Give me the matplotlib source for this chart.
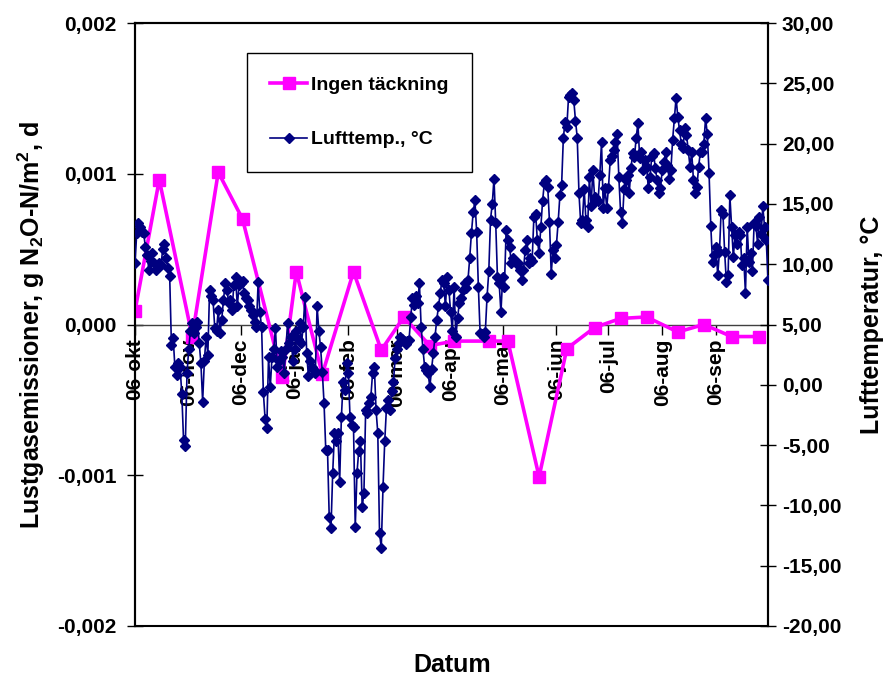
import matplotlib
matplotlib.use('Agg')
import matplotlib.pyplot as plt
import pandas as pd

plt.rcParams['font.family'] = ['Liberation Sans', 'DejaVu Sans']
plt.rcParams['font.weight'] = 'bold'
plt.rcParams['mathtext.fontset'] = 'custom'
plt.rcParams['mathtext.bf'] = 'Liberation Sans:bold'
plt.rcParams['mathtext.rm'] = 'Liberation Sans:bold'
plt.rcParams['mathtext.default'] = 'bf'

# Lustgasemissioner, ingen täckning (vänster axel)
lustgas_datum = ['2006-10-06', '2006-10-20', '2006-11-08', '2006-11-23', '2006-12-07',
                 '2006-12-30', '2007-01-07', '2007-01-22', '2007-02-09', '2007-02-25',
                 '2007-03-10', '2007-03-25', '2007-04-08', '2007-04-28', '2007-05-09',
                 '2007-05-27', '2007-06-12', '2007-06-28', '2007-07-13', '2007-07-28',
                 '2007-08-15', '2007-08-30', '2007-09-15', '2007-10-01']
lustgas = [0.00009, 0.00096, -0.00008, 0.00101, 0.0007,
           -0.00035, 0.00035, -0.00033, 0.00035, -0.00017,
           0.00005, -0.00014, -0.00011, -0.00011, -0.00011,
           -0.00101, -0.00016, -0.00002, 0.00004, 0.00005,
           -0.00005, 0.0, -0.00008, -0.00008]

# Lufttemperatur per dygn, från 2006-10-06 (höger axel)
temp_start = '2006-10-06'
temp_okt = [10.1, 12.6, 13.4, 13.1, 12.7, 12.6, 11.4, 10.8, 9.5, 10.3, 10.9, 10.1, 9.5, 9.8, 10.1, 9.9,
            11.3, 11.7, 10.5, 9.7, 9.0, 3.3, 3.9, 1.5, 0.8, 1.8, 1.5, -0.8, -4.6, -5.1, 1.0]
temp_nov = [3.0, 4.5, 5.1, 4.3, 4.8, 5.2, 3.5, 1.8, -1.4, 2.0, 4.0, 2.5, 7.9, 7.4, 7.0, 4.7,
            4.5, 6.2, 4.3, 5.4, 7.0, 8.4, 7.9, 6.8, 7.0, 6.2, 8.3, 8.9, 6.5, 8.3]
temp_dec = [8.4, 8.6, 7.6, 7.2, 7.0, 6.5, 6.2, 5.8, 5.2, 4.8, 8.5, 6.0, 4.8, -0.6, -2.8, -3.6,
            2.3, -0.2, 2.3, 3.0, 4.7, 1.5, 2.0, 2.8, 2.3, 1.0, 3.0, 5.1, 3.5, 4.0, 2.0]
temp_jan = [3.0, 4.5, 3.8, 5.1, 3.5, 4.8, 7.3, 2.6, 0.7, 2.0, 1.5, 1.2, 1.0, 6.5, 4.5, 3.1,
            1.1, -1.5, -5.4, -5.4, -11.0, -11.9, -7.3, -4.0, -4.7, -4.0, -8.1, -2.7, 0.2, -0.4, 1.8]
temp_feb = [1.0, -2.7, -3.3, -3.5, -11.8, -7.3, -5.5, -4.7, -10.1, -9.0, -2.1, -2.3, -1.5, -1.0,
            1.0, 1.5, -2.1, -4.0, -12.3, -13.5, -8.5, -4.7, -1.9, -1.3, -2.1, -0.5, 0.2, 2.2]
temp_mar = [3.0, 3.5, 4.0, 3.8, 3.6, 3.4, 3.6, 3.7, 5.6, 7.2, 6.6, 7.4, 6.8, 8.4, 4.8, 3.0,
            1.5, 1.2, 1.0, -0.2, 1.3, 2.6, 4.0, 5.4, 6.5, 7.6, 8.7, 8.4, 6.5, 8.9, 7.9]
temp_apr = [6.0, 4.5, 8.1, 4.0, 5.5, 6.8, 7.2, 7.9, 8.4, 8.0, 8.7, 10.5, 12.6, 14.3, 15.3,
            12.7, 8.1, 4.3, 4.2, 4.0, 4.4, 7.3, 9.4, 13.7, 15.0, 17.1, 13.4, 8.9, 8.4, 6.0]
temp_maj = [8.9, 8.1, 12.8, 12.0, 11.4, 10.1, 10.5, 10.3, 10.0, 10.1, 9.5, 8.7, 9.5, 11.2, 12.0,
            10.1, 10.5, 10.3, 13.9, 14.2, 12.0, 10.9, 13.1, 15.2, 16.7, 17.0, 16.4, 13.5, 9.2, 11.2, 10.5]
temp_jun = [11.6, 13.5, 15.7, 16.6, 20.5, 21.8, 21.4, 23.9, 24.0, 24.2, 23.6, 21.9, 20.5, 15.9,
            13.4, 13.7, 16.2, 13.7, 13.1, 17.2, 14.8, 17.8, 15.6, 15.3, 15.2, 17.4, 20.1, 14.7, 16.3, 14.7]
temp_jul = [16.3, 18.6, 19.0, 19.5, 20.1, 20.8, 17.2, 14.3, 13.4, 16.2, 17.0, 17.4, 15.9, 18.0,
            19.2, 18.9, 20.5, 21.7, 18.8, 19.3, 17.8, 18.6, 18.1, 16.3, 17.2, 19.0, 19.2, 18.0, 17.0, 15.9, 16.3]
temp_aug = [17.8, 18.5, 19.3, 18.2, 17.1, 17.8, 20.3, 22.1, 23.8, 22.2, 21.1, 20.0, 19.6, 21.3,
            20.7, 19.5, 18.1, 19.3, 17.0, 15.9, 16.4, 18.1, 19.3, 19.3, 20.0, 22.1, 20.8, 17.6, 13.2, 10.2, 10.8]
temp_sep = [11.4, 9.1, 11.0, 14.5, 14.2, 11.0, 8.5, 9.1, 15.7, 13.1, 10.6, 12.4, 11.7, 12.7, 12.4,
            9.9, 10.5, 7.6, 13.1, 10.2, 10.9, 9.4, 13.4, 13.2, 11.7, 13.9, 12.5, 14.8, 13.1, 12.0, 8.7]

temp = (temp_okt + temp_nov + temp_dec + temp_jan + temp_feb + temp_mar
        + temp_apr + temp_maj + temp_jun + temp_jul + temp_aug + temp_sep)
temp_datum = pd.date_range(temp_start, periods=len(temp), freq='D')

tick_datum = ['2006-10-06', '2006-11-06', '2006-12-06', '2007-01-06', '2007-02-06', '2007-03-06',
              '2007-04-06', '2007-05-06', '2007-06-06', '2007-07-06', '2007-08-06', '2007-09-06']
tick_text = ['06-okt', '06-nov', '06-dec', '06-jan', '06-feb', '06-mar',
             '06-apr', '06-maj', '06-jun', '06-jul', '06-aug', '06-sep']
vanster_ticks = [-0.002, -0.001, 0.0, 0.001, 0.002]
hoger_ticks = [-20, -15, -10, -5, 0, 5, 10, 15, 20, 25, 30]

fig = plt.figure(figsize=(8.87, 6.78), dpi=100)
ax = fig.add_axes([135 / 887, 52 / 678, 633 / 887, 603 / 678])
ax2 = ax.twinx()

# x-axeln ligger vid noll, som i Excel
ax.spines['bottom'].set_position(('data', 0))
ax.spines['bottom'].set_color('#404040')
ax.spines['bottom'].set_linewidth(1)
for s in ['left', 'right', 'top']:
    ax.spines[s].set_linewidth(1.5)
for s in ['left', 'right', 'bottom', 'top']:
    ax2.spines[s].set_linewidth(1.5)

l1, = ax.plot(pd.to_datetime(lustgas_datum), lustgas, color='#FF00FF', lw=2.6,
              marker='s', markersize=8, label='Ingen täckning', zorder=3)
l2, = ax2.plot(temp_datum, temp, color='#000080', lw=1.2, marker='D',
               markersize=4.8, label='Lufttemp., °C', zorder=3)

ax.set_xlim(pd.Timestamp('2006-10-06'), pd.Timestamp('2007-10-06'))
ax.set_ylim(-0.002, 0.002)
ax2.set_ylim(-20, 30)

ax.set_xticks(pd.to_datetime(tick_datum))
ax.set_xticklabels(tick_text)
ax.set_yticks(vanster_ticks)
ax.set_yticklabels([f'{v:.3f}'.replace('.', ',') for v in vanster_ticks])
ax2.set_yticks(hoger_ticks)
ax2.set_yticklabels([f'{v:.2f}'.replace('.', ',') for v in hoger_ticks])

ax.tick_params(axis='x', direction='out', length=7, width=1, pad=3,
               labelsize=15, labelrotation=90)
ax.tick_params(axis='y', direction='inout', length=12, width=1, pad=7, labelsize=15)
ax2.tick_params(axis='y', direction='inout', length=12, width=1, pad=4, labelsize=15)
for t in ax.get_xticklabels():
    t.set_fontweight('bold')

fig.text(31 / 887, 1 - 325 / 678, 'Lustgasemissioner, g N$_2$O-N/m$^2$, d', rotation=90,
         ha='center', va='center', fontsize=18, fontweight='bold')
fig.text(872 / 887, 1 - 325 / 678, 'Lufttemperatur, °C', rotation=90,
         ha='center', va='center', fontsize=18, fontweight='bold')
fig.text(452 / 887, 1 - 665 / 678, 'Datum', ha='center', va='center',
         fontsize=18, fontweight='bold')

leg = ax2.legend(handles=[l1, l2], loc='upper left', bbox_to_anchor=(247 / 887, 1 - 53 / 678),
                 bbox_transform=fig.transFigure, borderaxespad=0, fontsize=14,
                 labelspacing=1.9, borderpad=1.2, handlelength=1.9, handletextpad=0.2,
                 fancybox=False, framealpha=1, edgecolor='black')
leg.get_frame().set_linewidth(1)
for t in leg.get_texts():
    t.set_fontweight('bold')

fig.savefig('out.png', dpi=100)
